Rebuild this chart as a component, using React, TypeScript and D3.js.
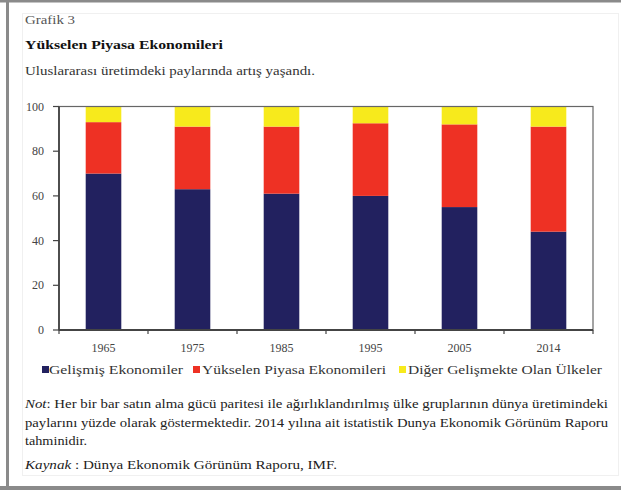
import React from "react";
import * as d3 from "d3";

const years = ["1965", "1975", "1985", "1995", "2005", "2014"];
const developed = [70, 63, 61, 60, 55, 44];
const emerging = [23, 28, 30, 32.5, 37, 47];
const otherDeveloping = [7, 9, 9, 7.5, 8, 9];
const seriesNames = ["Gelişmiş Ekonomiler", "Yükselen Piyasa Ekonomileri", "Diğer Gelişmekte Olan Ülkeler"];
const seriesColors = ["#22215f", "#ee3124", "#f7ea1c"];
const yTicks = [0, 20, 40, 60, 80, 100];

const W = 621, H = 490;
const plot = { left: 59, right: 593, top: 106.5, bottom: 330 };
const FONT = "'Liberation Serif', 'Times New Roman', serif";

export default function App() {
  const x = d3.scaleBand<string>().domain(years).range([plot.left, plot.right]).paddingInner(0.6).paddingOuter(0.3);
  const xb = d3.scaleBand<string>().domain(years).range([plot.left, plot.right]);
  const y = d3.scaleLinear().domain([0, 100]).range([plot.bottom, plot.top]);
  const table = years.map((yr, i) => ({ year: yr, a: developed[i], b: emerging[i], c: otherDeveloping[i] }));
  const stack = d3.stack<any>().keys(["a", "b", "c"])(table);

  const boundaries = [...years.map((yr) => xb(yr)!), plot.right];
  const fit = { lengthAdjust: "spacingAndGlyphs" as const };

  return (
    <svg width={W} height={H} style={{ position: "absolute", left: 0, top: 0, background: "#fff" }} fontFamily={FONT}>
      {/* outer frame */}
      <rect x={0} y={0} width={W} height={H} fill="#fff" />
      <rect x={22.5} y={13.5} width={596} height={462} fill="none" stroke="#f0f0f0" strokeWidth={1} />
      <line x1={0} x2={W} y1={1} y2={1} stroke="#8a8a8a" strokeWidth={3} />
      <line x1={0} x2={W} y1={488} y2={488} stroke="#8a8a8a" strokeWidth={4} />
      <line x1={7.5} x2={7.5} y1={0} y2={486} stroke="#8a8a8a" strokeWidth={3} />

      {/* titles */}
      <text x={25} y={24} fontSize={13} fill="#555" textLength={50} {...fit}>Grafik 3</text>
      <text x={25} y={49} fontSize={13.5} fontWeight="bold" fill="#111" textLength={198} {...fit}>Yükselen Piyasa Ekonomileri</text>
      <text x={25} y={75} fontSize={13.5} fill="#333" textLength={290} {...fit}>Uluslararası üretimdeki paylarında artış yaşandı.</text>

      {/* bars */}
      {stack.map((s, si) => (
        <g key={si} fill={seriesColors[si]}>
          {s.map((d, i) => (
            <rect key={i} x={x(years[i])} width={x.bandwidth()} y={y(d[1])} height={y(d[0]) - y(d[1])} />
          ))}
        </g>
      ))}

      {/* frame / axes */}
      <rect x={plot.left} y={plot.top} width={plot.right - plot.left} height={plot.bottom - plot.top} fill="none" stroke="#666" strokeWidth={1.2} />
      <line x1={plot.left} x2={plot.left} y1={plot.top} y2={plot.bottom} stroke="#444" strokeWidth={1.8} />
      <line x1={plot.left} x2={plot.right} y1={plot.bottom} y2={plot.bottom} stroke="#444" strokeWidth={1.8} />
      {yTicks.map((t) => (
        <g key={t}>
          <line x1={plot.left - 6} x2={plot.left} y1={y(t)} y2={y(t)} stroke="#444" strokeWidth={1.2} />
          <text x={44} y={y(t) + 4} textAnchor="end" fontSize={12} fill="#444">{t}</text>
        </g>
      ))}
      {boundaries.map((b, i) => (
        <line key={i} x1={b} x2={b} y1={plot.bottom} y2={plot.bottom + 4} stroke="#444" strokeWidth={1.2} />
      ))}
      {years.map((yr) => (
        <text key={yr} x={xb(yr)! + xb.bandwidth() / 2} y={352} textAnchor="middle" fontSize={12} fill="#444">{yr}</text>
      ))}

      {/* legend */}
      {[{ sx: 42, tx: 49, w: 134 }, { sx: 193, tx: 202, w: 184 }, { sx: 399, tx: 408, w: 194 }].map((p, i) => (
        <g key={i}>
          <rect x={p.sx} y={366} width={7} height={7} fill={seriesColors[i]} />
          <text x={p.tx} y={374} fontSize={13} fill="#333" textLength={p.w} {...fit}>{seriesNames[i]}</text>
        </g>
      ))}

      {/* notes */}
      <text x={25} y={408} fontSize={13.5} fill="#222" textLength={583} {...fit}>
        <tspan fontStyle="italic">Not</tspan>:  Her bir bar satın alma gücü paritesi ile ağırlıklandırılmış ülke gruplarının dünya üretimindeki
      </text>
      <text x={25} y={427} fontSize={13.5} fill="#222" textLength={583} {...fit}>paylarını yüzde olarak göstermektedir. 2014 yılına ait istatistik Dunya Ekonomik Görünüm Raporu</text>
      <text x={25} y={445} fontSize={13.5} fill="#222" textLength={62} {...fit}>tahminidir.</text>
      <text x={25} y={469} fontSize={13.5} fill="#222" textLength={312} {...fit}>
        <tspan fontStyle="italic">Kaynak</tspan> : Dünya Ekonomik Görünüm Raporu, IMF.
      </text>
    </svg>
  );
}
